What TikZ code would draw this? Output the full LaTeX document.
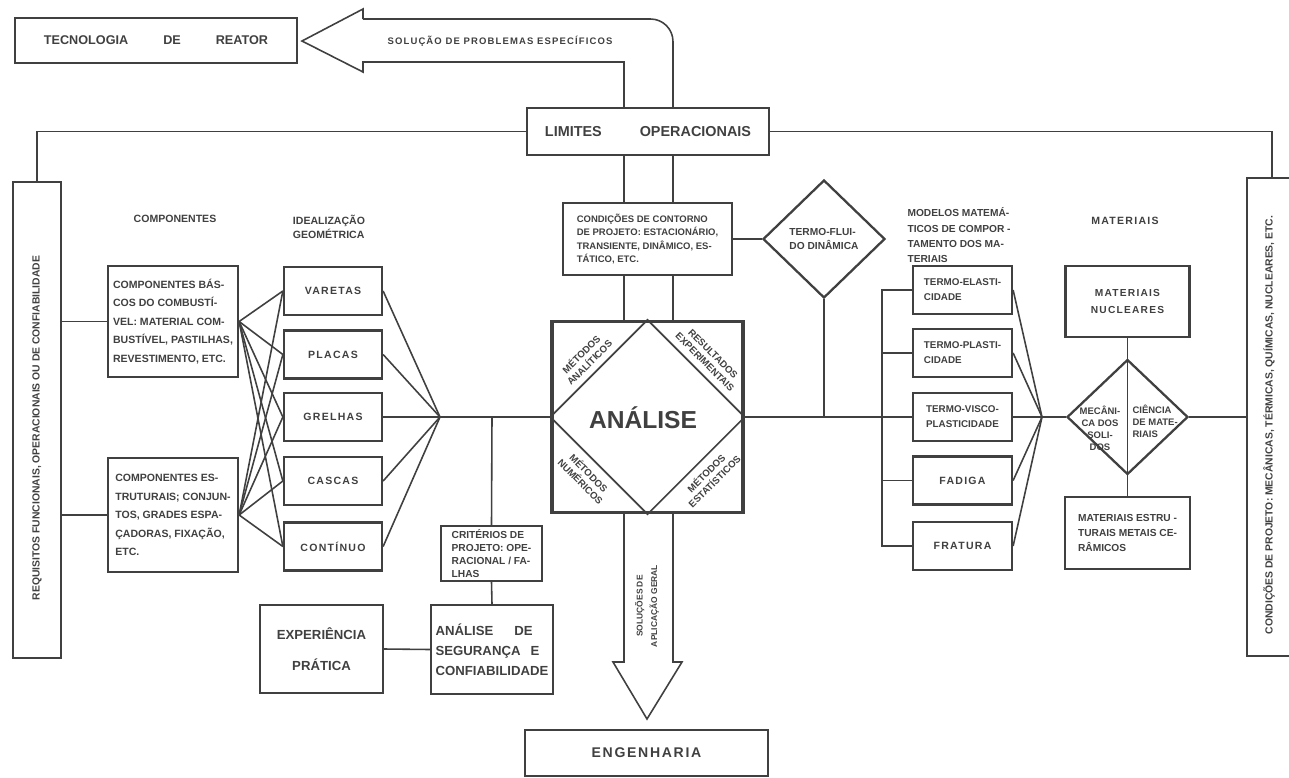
\documentclass[tikz,border=0pt]{standalone}
\usepackage{fontspec}
\setmainfont{Liberation Sans}
\newfontfamily\spaced[LetterSpace=12]{Liberation Sans}
\usetikzlibrary{shapes.geometric}
\colorlet{ink}{black!75}

\begin{document}
\begin{tikzpicture}[x=0.02cm, y=-0.02cm, line width=0.9pt, color=ink,
    every node/.style={inner sep=1pt, font=\bfseries\fontsize{6}{10.5}\selectfont},
    box/.style={draw, rectangle, line width=1.3pt},
    ideal/.style={box, minimum width=1.96cm, minimum height=0.96cm, font=\spaced\bfseries\fontsize{6}{8}\selectfont},
    model/.style={box, minimum width=1.98cm, minimum height=0.96cm, align=left, font=\bfseries\fontsize{5.6}{8.5}\selectfont},
    corner/.style={align=center, inner sep=0pt, font=\bfseries\fontsize{5.5}{6.6}\selectfont},
    bigbox/.style={box, font=\bfseries\fontsize{7.5}{11.3}\selectfont}]
    \useasboundingbox (0,0) rectangle (1289,778);

    \node (tecno) [box, minimum width=5.64cm, minimum height=0.9cm, font=\bfseries\fontsize{7.2}{9}\selectfont] at (156,40.5) {TECNOLOGIA\hspace{0.7cm}DE\hspace{0.7cm}REATOR};
    \node (solucao) [font=\spaced\bfseries\fontsize{5.4}{6}\selectfont] at (500,41) {SOLUÇÃO DE PROBLEMAS ESPECÍFICOS};
    \node (limites) [box, minimum width=4.84cm, minimum height=0.94cm, font=\bfseries\fontsize{8.2}{10}\selectfont] at (648,131.5) {LIMITES\hspace{0.76cm}OPERACIONAIS};

    \node (req) [box, minimum width=0.96cm, minimum height=9.52cm] at (37,420) {};
    \node (reqtxt) [rotate=90, font=\bfseries\fontsize{5.9}{7}\selectfont] at (37,428) {REQUISITOS FUNCIONAIS, OPERACIONAIS OU DE CONFIABILIDADE};
    \node (cond) [box, minimum width=1.0cm, minimum height=9.56cm] at (1272,417) {};
    \node (condtxt) [rotate=90, font=\bfseries\fontsize{5.9}{7}\selectfont] at (1269,425) {CONDIÇÕES DE PROJETO: MECÂNICAS, TÉRMICAS, QUÍMICAS, NUCLEARES, ETC.};

    \node (comphead) at (175,219) {COMPONENTES};
    \node (idealhead) [align=left, font=\bfseries\fontsize{6}{8}\selectfont] at (329,227) {IDEALIZAÇÃO\\GEOMÉTRICA};
    \node (comp1) [box, minimum width=2.6cm, minimum height=2.22cm, align=left] at (173,321.5) {COMPONENTES BÁS-\\COS DO COMBUSTÍ-\\VEL: MATERIAL COM-\\BUSTÍVEL, PASTILHAS,\\REVESTIMENTO, ETC.};
    \node (comp2) [box, minimum width=2.6cm, minimum height=2.28cm, align=left] at (173,515) {COMPONENTES ES-\\TRUTURAIS; CONJUN-\\TOS, GRADES ESPA-\\ÇADORAS, FIXAÇÃO,\\ETC.};
    \foreach \n/\t/\y in {vare/VARETAS/291, plac/PLACAS/354.5, grel/GRELHAS/417, casc/CASCAS/481, cont/CONTÍNUO/546.5}
        \node (\n) [ideal] at (333,\y) {\t};
    \coordinate (iconv) at (440,417);
    \coordinate (branch) at (492,417);

    \node (contorno) [box, minimum width=3.38cm, minimum height=1.44cm, align=left, font=\bfseries\fontsize{5.4}{7.7}\selectfont] at (647.5,239) {CONDIÇÕES DE CONTORNO\\DE PROJETO: ESTACIONÁRIO,\\TRANSIENTE, DINÂMICO, ES-\\TÁTICO, ETC.};
    \node (termo) [draw, diamond, line width=1.3pt, minimum width=2.44cm, minimum height=2.36cm, inner sep=0pt, align=left, font=\bfseries\fontsize{5.8}{8}\selectfont] at (824,239) {TERMO-FLUI-\\DO DINÂMICA};
    \node (analise) [draw, line width=2pt, minimum size=3.82cm, inner sep=0pt] at (647.5,417) {};
    \node (analisetxt) [font=\bfseries\fontsize{14}{16}\selectfont] at (643,418) {ANÁLISE};
    \node (tl) [corner, rotate=45] at (585,358) {MÉTODOS\\ANALÍTICOS};
    \node (tr) [corner, rotate=-45] at (709,358) {RESULTADOS\\EXPERIMENTAIS};
    \node (bl) [corner, rotate=-45] at (585,477) {MÉTODOS\\NUMÉRICOS};
    \node (br) [corner, rotate=45] at (710,477) {MÉTODOS\\ESTATÍSTICOS};
    \coordinate (colL) at (624,0);
    \coordinate (colR) at (673,0);
    \coordinate (tipL) at (302,41);
    \coordinate (tipD) at (647,719);

    \node (criterios) [box, minimum width=2.02cm, minimum height=1.1cm, align=left, font=\bfseries\fontsize{5.8}{7.3}\selectfont] at (491.5,553.5) {CRITÉRIOS DE\\PROJETO: OPE-\\RACIONAL / FA-\\LHAS};
    \node (seguranca) [bigbox, minimum width=2.44cm, minimum height=1.78cm, align=left] at (492,649.5) {ANÁLISE\hspace{0.42cm}DE\\SEGURANÇA\hspace{0.2cm}E\\CONFIABILIDADE};
    \node (experiencia) [bigbox, minimum width=2.46cm, minimum height=1.76cm, align=center, font=\bfseries\fontsize{7.5}{17.5}\selectfont] at (321.5,649) {EXPERIÊNCIA\\PRÁTICA};
    \node (aplic) [rotate=90, align=center, font=\bfseries\fontsize{4.8}{8.3}\selectfont] at (647,606) {SOLUÇÕES DE\\APLICAÇÃO GERAL};
    \node (engenharia) [box, minimum width=4.86cm, minimum height=0.92cm, font=\spaced\bfseries\fontsize{8}{10}\selectfont] at (646.5,753) {ENGENHARIA};

    \node (modhead) [anchor=north west, align=left, font=\bfseries\fontsize{5.8}{8.8}\selectfont] at (905,205) {MODELOS MATEMÁ-\\TICOS DE COMPOR -\\TAMENTO DOS MA-\\TERIAIS};
    \foreach \n/\t/\y in {mel/{TERMO-ELASTI-\\CIDADE}/290, mpl/{TERMO-PLASTI-\\CIDADE}/353, mvis/{TERMO-VISCO-\\PLASTICIDADE}/417}
        \node (\n) [model] at (962.5,\y) {\t};
    \node (mfa) [model, font=\spaced\bfseries\fontsize{6}{8}\selectfont] at (962.5,480.5) {FADIGA};
    \node (mfr) [model, font=\spaced\bfseries\fontsize{6}{8}\selectfont] at (962.5,546) {FRATURA};
    \coordinate (bus) at (882,0);
    \coordinate (mconv) at (1042,417);

    \node (mathead) [font=\spaced\bfseries\fontsize{6}{8}\selectfont] at (1125,221) {MATERIAIS};
    \node (matnuc) [box, minimum width=2.48cm, minimum height=1.42cm, align=center, font=\spaced\bfseries\fontsize{5.8}{9.6}\selectfont] at (1127.5,301.5) {MATERIAIS\\NUCLEARES};
    \node (matdia) [draw, diamond, line width=1.3pt, minimum width=2.42cm, minimum height=2.3cm, inner sep=0pt] at (1127.5,417) {};
    \node (mecanica) [align=center, font=\bfseries\fontsize{5.4}{6.8}\selectfont] at (1100,428) {MECÂNI-\\CA DOS\\SOLI-\\DOS};
    \node (ciencia) [anchor=west, align=left, font=\bfseries\fontsize{5.4}{6.8}\selectfont] at (1130,421) {CIÊNCIA\\DE MATE-\\RIAIS};
    \node (matest) [box, minimum width=2.5cm, minimum height=1.44cm, align=left, font=\bfseries\fontsize{5.8}{8.5}\selectfont] at (1127.5,533) {MATERIAIS ESTRU -\\TURAIS METAIS CE-\\RÂMICOS};

    \draw (limites.north -| colL) |- (363,62) -- (363,72) -- (tipL) -- (363,9) -- (363,19);
    \draw[rounded corners=0.45cm] (363,19) -| (limites.north -| colR);
    \draw (req.north) |- (limites.west);
    \draw (cond.north) |- (limites.east);

    \draw (comp1.west) -- (comp1.west -| req.east);
    \draw (comp2.west) -- (comp2.west -| req.east);
    \foreach \n in {vare,plac,grel,casc,cont} {
        \draw (comp1.east) -- (\n.west);
        \draw (comp2.east) -- (\n.west);
        \draw (\n.east) -- (iconv);
    }
    \draw (iconv) -- (analise.west);
    \draw (branch) -- (criterios.north);
    \draw (criterios.south) -- (seguranca.north);
    \draw (experiencia.east) -- (seguranca.west);

    \draw[line width=1pt] (analise.north) -- (analise.east) -- (analise.south) -- (analise.west) -- cycle;
    \foreach \c in {colL,colR} {
        \draw (limites.south -| \c) -- (contorno.north -| \c);
        \draw (contorno.south -| \c) -- (analise.north -| \c);
    }
    \draw (analise.south -| colL) |- (613,662) -- (tipD) -- (682,662) -| (analise.south -| colR);
    \draw (contorno.east) -- (termo.west);
    \draw (termo.south) -- (termo.south |- analise.east);
    \draw (analise.east) -- (mvis.west);

    \draw (mel.west) -| (bus |- mfr.west) -- (mfr.west);
    \draw (mpl.west) -- (mpl.west -| bus);
    \draw (mfa.west) -- (mfa.west -| bus);
    \foreach \n in {mel,mpl,mvis,mfa,mfr}
        \draw (\n.east) -- (mconv);
    \draw (mconv) -- (matdia.west);
    \draw (matdia.east) -- (cond.west);
    \draw (matnuc.south) -- (matest.north);
\end{tikzpicture}
\end{document}
